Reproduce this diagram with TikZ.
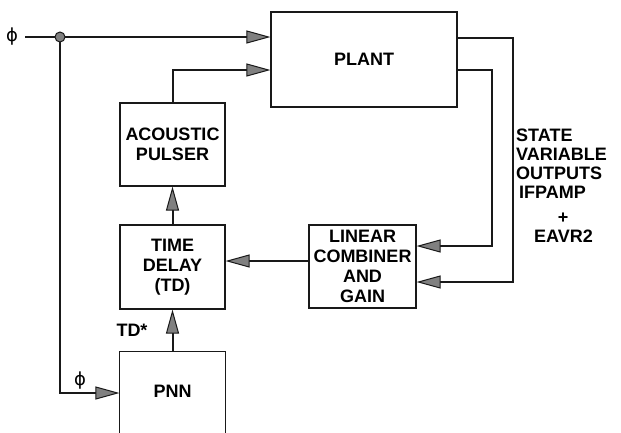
\documentclass[tikz,border=0pt]{standalone}
\usepackage{fontspec}
\setmainfont{Liberation Sans}
\newfontfamily\phifont{DejaVu Sans}
\usetikzlibrary{arrows.meta}
\begin{document}
\begin{tikzpicture}[x=1pt,y=-1pt,
  box/.style={draw=black!90, line width=1.1pt, minimum width=105pt, minimum height=83pt,
              inner sep=0pt, align=center, font=\fontsize{18}{20}\selectfont\bfseries},
  boxline/.style={draw=black!90, line width=1.1pt},
  conn/.style={draw=black!90, line width=2pt},
  arr/.style={conn, -{Triangle[length=24pt,width=13pt,fill=black!50,line width=1pt]}},
  lbl/.style={font=\fontsize{18}{19}\selectfont\bfseries, inner sep=0pt},
  phil/.style={font=\phifont\fontsize{18}{18}\selectfont, inner sep=0pt},
  jdot/.style={circle, draw=black!90, line width=1pt, fill=black!50, inner sep=0pt, minimum size=10pt},
]
\useasboundingbox (0,0) rectangle (621,432);
\clip (0,0) rectangle (621,432);

% blocks
\node[box, minimum width=186pt, minimum height=95pt] (plant) at (364,59.5) {PLANT};
\node[box] (ap) at (172.5,144.5) {ACOUSTIC\\PULSER};
\node[box, minimum height=84pt] (td) at (172.5,267) {TIME\\DELAY\\(TD)};
\node[box, minimum width=107pt] (lc) at (362.5,266.5) {LINEAR\\COMBINER\\AND\\GAIN};
\node[box, draw=none, minimum height=78pt] (pnn) at (172.5,391) {PNN};
\draw[boxline] ([yshift=-20pt]pnn.south west) -- (pnn.north west) -- (pnn.north east) -- ([yshift=-20pt]pnn.south east);

% input phi
\coordinate (in) at (25,37);
\coordinate (jc) at (60,37);
\node[phil] (phi1) at (12,37) {ϕ};
\draw[arr] (in) -- (plant.west |- in);
\draw[arr] (jc) |- (pnn.west |- 0,393);
\node[phil] (phi2) at (80,381) {ϕ};
\node[jdot] (j) at (jc) {};

% inner chain
\draw[arr] (ap.north) |- (plant.west |- 0,70);
\draw[arr] (td.north) -- (ap.south);
\draw[arr] (pnn.north) -- (td.south);
\node[lbl] (tds) at (132,330) {TD*};
\draw[arr] (lc.west |- 0,261) -- (td.east |- 0,261);

% plant outputs
\coordinate (c1) at (513,160);
\coordinate (c2) at (492,160);
\draw[arr] (plant.east |- 0,38) -| (c1) |- (lc.east |- 0,282);
\draw[arr] (plant.east |- 0,70) -| (c2) |- (lc.east |- 0,246);

% labels
\node[lbl, anchor=north west, align=left] (svo) at (516,129) {STATE\\VARIABLE\\OUTPUTS\\\,IFPAMP};
\node[lbl] (plus) at (563,218) {+};
\node[lbl] (eavr) at (563.5,236) {EAVR2};
\end{tikzpicture}
\end{document}
